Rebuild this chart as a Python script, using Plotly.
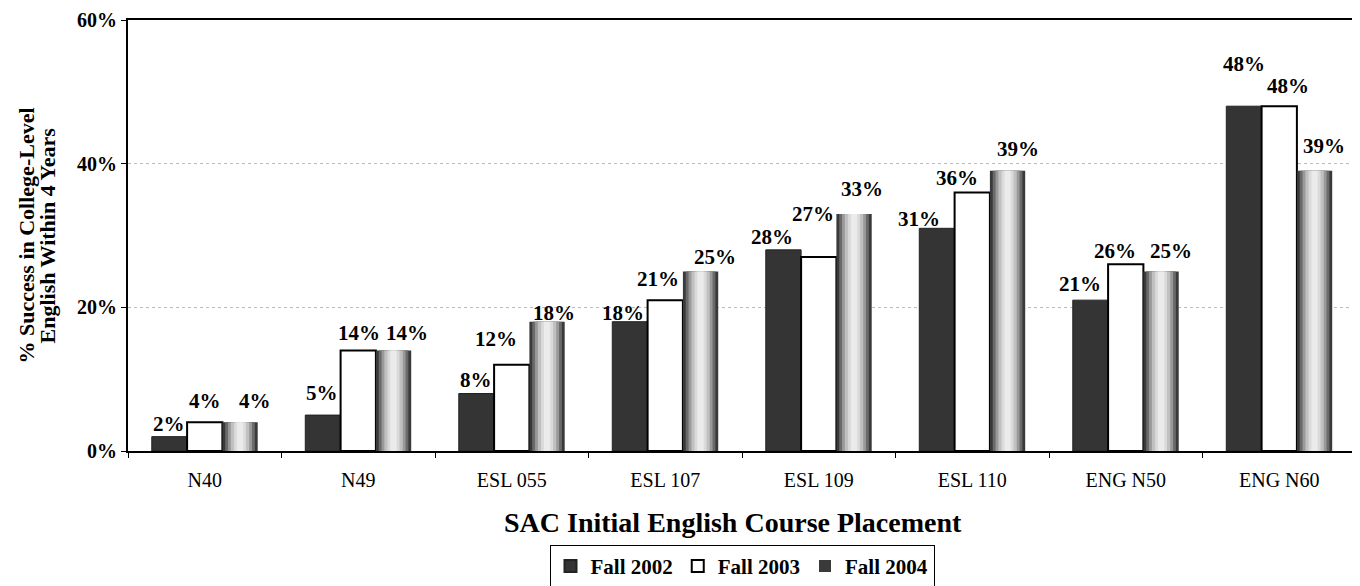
import plotly.graph_objects as go

categories = ["N40", "N49", "ESL 055", "ESL 107", "ESL 109", "ESL 110", "ENG N50", "ENG N60"]
fall_2002 = [2, 5, 8, 18, 28, 31, 21, 48]
fall_2003 = [4, 14, 12, 21, 27, 36, 26, 48]
fall_2004 = [4, 14, 18, 25, 33, 39, 25, 39]
y_ticks = [0, 20, 40, 60]
y_tick_labels = ["0%", "20%", "40%", "60%"]

# label placement nudges (pixels: dx right, dy up) -- styling only
nudge_2002 = [(0, 14), (-1, 23), (0, 15), (-7, 10), (-11, 14), (-18, 10), (-10, 17), (0, 43)]
nudge_2003 = [(0, 22), (1, 18), (-16, 27), (-7, 22), (-6, 44), (-15, 15), (-11, 14), (9, 21)]
nudge_2004 = [(15, 22), (13, 18), (7, 10), (14, 15), (8, 26), (10, 23), (10, 21), (9, 26)]

SERIF = "Liberation Serif, Times New Roman, serif"
BW = 0.23
FIG_W, FIG_H = 1352, 578
M_L, M_R, M_T, M_B = 120, 4, 12, 135
plot_w = FIG_W - M_L - M_R
px_per_cat = plot_w / len(categories)

fig = go.Figure()

fig.add_trace(go.Bar(
    x=categories, y=fall_2002, name="<b>Fall 2002</b>",
    width=BW, offset=-0.345,
    marker=dict(color="#343434", line=dict(color="#222222", width=1)),
))
fig.add_trace(go.Bar(
    x=categories, y=fall_2003, name="<b>Fall 2003</b>",
    width=BW, offset=-0.115,
    marker=dict(color="white", line=dict(color="black", width=2)),
))
# Fall 2004: gradient-like fill built from layered bars
layers = [
    (BW, "#3a3a3a", True),
    (BW * 0.84, "#6a6a6a", False),
    (BW * 0.68, "#999999", False),
    (BW * 0.52, "#c0c0c0", False),
    (BW * 0.34, "#dadada", False),
    (BW * 0.18, "#ebebeb", False),
]
center = 0.115 + BW / 2
for w, col, main in layers:
    fig.add_trace(go.Bar(
        x=categories, y=fall_2004,
        name="<b>Fall 2004</b>",
        width=w, offset=center - w / 2,
        marker=dict(color=col, line=dict(width=0)),
        showlegend=main,
        hoverinfo=None if main else "skip",
    ))

annotations = []
series = [(fall_2002, nudge_2002, -BW), (fall_2003, nudge_2003, 0.0), (fall_2004, nudge_2004, BW)]
for vals, nudges, off in series:
    for cat, v, (dx, dy) in zip(categories, vals, nudges):
        annotations.append(dict(
            x=cat, y=v, xref="x", yref="y",
            text=f"<b>{v}%</b>", showarrow=False,
            xanchor="center", yanchor="middle",
            xshift=off * px_per_cat + dx, yshift=dy - 1,
            font=dict(family=SERIF, size=21, color="black"),
        ))

annotations += [
    dict(text="<b>SAC Initial English Course Placement</b>",
         x=(502 - 128) / plot_w, y=-0.165, xref="paper", yref="paper",
         xanchor="left", yanchor="middle", showarrow=False,
         font=dict(family=SERIF, size=28, color="black")),
    dict(text="<b>% Success in College-Level</b>",
         x=(26 - 128) / plot_w, y=0.5, xref="paper", yref="paper",
         xanchor="center", yanchor="middle", showarrow=False, textangle=-90,
         font=dict(family=SERIF, size=22, color="black")),
    dict(text="<b>English Within 4 Years</b>",
         x=(47 - 128) / plot_w, y=0.5, xref="paper", yref="paper",
         xanchor="center", yanchor="middle", showarrow=False, textangle=-90,
         font=dict(family=SERIF, size=22, color="black")),
]

fig.update_layout(
    barmode="overlay",
    width=FIG_W, height=FIG_H,
    margin=dict(l=M_L, r=M_R, t=M_T, b=M_B, autoexpand=False),
    paper_bgcolor="white",
    plot_bgcolor="white",
    font=dict(family=SERIF, color="black"),
    xaxis=dict(
        showline=True, linecolor="black", linewidth=2, mirror=True,
        ticks="outside", tickson="boundaries", ticklen=5, tickcolor="black",
        tickfont=dict(family=SERIF, size=20, color="black"),
        ticklabelstandoff=10,
        automargin=False,
    ),
    yaxis=dict(
        range=[0, 60], tickvals=y_ticks, ticktext=[f"<b>{t}</b>" for t in y_tick_labels],
        showline=True, linecolor="black", linewidth=2, mirror=True,
        ticks="outside", ticklen=5, tickcolor="black",
        tickfont=dict(family=SERIF, size=20, color="black"),
        showgrid=True, gridcolor="#bbbbbb", griddash="dot", gridwidth=1,
        zeroline=False, automargin=False,
    ),
    annotations=annotations,
    legend=dict(
        orientation="h", x=0.5, xanchor="center", y=-0.218, yanchor="top",
        bordercolor="black", borderwidth=1,
        font=dict(family=SERIF, size=21, color="black"),
        itemsizing="constant", traceorder="normal",
    ),
    showlegend=True,
)

fig.write_html("out.html")
